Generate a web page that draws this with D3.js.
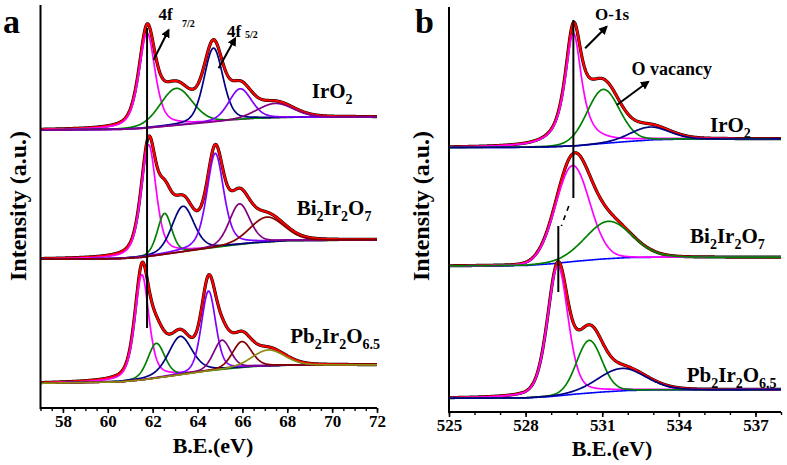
<!DOCTYPE html>
<html><head><meta charset="utf-8">
<script src="https://cdn.jsdelivr.net/npm/d3@7"></script>
<style>
body{margin:0;background:#fff}
svg{display:block}
text{font-family:"Liberation Serif","Times New Roman",serif;font-weight:bold;fill:#000}
</style>
</head><body>
<svg id="chart" width="787" height="465"></svg>
<script>
// ---------------- DATA ----------------
// Panel a : Ir 4f
const irDomain = [57, 72];
const irTickLabels = [58, 60, 62, 64, 66, 68, 70, 72];
const irMinorTicks = [57,57.5,58,58.5,59,59.5,60,60.5,61,61.5,62,62.5,63,63.5,64,64.5,65,65.5,66,66.5,67,67.5,68,68.5,69,69.5,70,70.5,71,71.5,72];
// Panel b : O 1s
const oDomain = [525, 538];
const oTickLabels = [525, 528, 531, 534, 537];
const oMinorTicks = [525,526,527,528,529,530,531,532,533,534,535,536,537,538];

// component colours
const cMagenta = "#ff00ff", cGreen = "#008000", cNavy = "#000080", cViolet = "#8000ff",
      cPurple = "#800080", cMaroon = "#800000", cOlive = "#8c8c14";

// IrO2 Ir 4f
const irO2_4f_centers = [61.75, 63.05, 64.71, 65.90, 67.46];
const irO2_4f_heights = [95, 37, 74, 31, 14.5];
const irO2_4f_widths  = [0.85, 1.7, 1.0, 1.2, 1.9];
const irO2_4f_mix     = [0.55, 0.2, 0.3, 0.3, 0.2];
const irO2_4f_colors  = [cMagenta, cGreen, cNavy, cViolet, cPurple];
const irO2_4f_baseline = [[57,278],[60.5,278.5],[61.5,279.5],[62.5,281.5],[63.5,283.5],[64.5,285.5],[65.5,287.5],[66.5,289.3],[68,290.5],[72,291]];

// Bi2Ir2O7 Ir 4f
const bi_4f_centers = [61.82, 62.53, 63.35, 64.79, 65.87, 67.09];
const bi_4f_heights = [111.7, 41, 45.7, 94.3, 40.7, 25];
const bi_4f_widths  = [0.79, 0.75, 1.16, 0.89, 1.08, 1.8];
const bi_4f_mix     = [0.5, 0.3, 0.3, 0.45, 0.3, 0.2];
const bi_4f_colors  = [cMagenta, cGreen, cNavy, cViolet, cPurple, cMaroon];
const bi_4f_baseline = [[57,148.7],[60.5,149.2],[61.5,150.5],[62.5,153.5],[63.5,156.5],[64.5,159.5],[65.5,162.5],[66.5,165],[68,167.3],[72,168]];

// Pb2Ir2O6.5 Ir 4f
const pb_4f_centers = [61.52, 62.16, 63.23, 64.49, 65.09, 65.98, 67.16];
const pb_4f_heights = [105.3, 34.7, 38.4, 80, 29.3, 26, 16];
const pb_4f_widths  = [0.74, 0.89, 1.26, 0.75, 0.9, 1.0, 1.7];
const pb_4f_mix     = [0.5, 0.3, 0.4, 0.3, 0.3, 0.3, 0.2];
const pb_4f_colors  = [cMagenta, cGreen, cNavy, cViolet, cPurple, cMaroon, cOlive];
const pb_4f_baseline = [[57,24.7],[60.5,26],[61.5,28],[62.5,31],[63.5,34],[64.5,37],[65.5,39.5],[66.5,41.5],[68,42.7],[72,43]];

// IrO2 O 1s
const irO2_o1s_centers = [529.87, 531.04, 532.85];
const irO2_o1s_heights = [112.7, 54, 13];
const irO2_o1s_widths  = [0.78, 1.5, 1.8];
const irO2_o1s_mix     = [0.85, 0.1, 0.1];
const irO2_o1s_colors  = [cMagenta, cGreen, cNavy];
const irO2_o1s_baseline = [[525,264.5],[528,264.7],[529,265.2],[530,266.2],[531,268.5],[532,270.5],[533,272.2],[534,272.8],[538,273]];

// Bi2Ir2O7 O 1s
const bi_o1s_centers = [529.84, 531.24];
const bi_o1s_heights = [96, 37.3];
const bi_o1s_widths  = [1.57, 2.15];
const bi_o1s_mix     = [0.05, 0.1];
const bi_o1s_colors  = [cMagenta, cGreen];
const bi_o1s_baseline = [[525,146],[528,146.5],[529,148.2],[530,150.8],[531,153],[532,154.4],[533,154.7],[538,154.7]];

// Pb2Ir2O6.5 O 1s
const pb_o1s_centers = [529.26, 530.49, 531.76];
const pb_o1s_heights = [130, 52.6, 22.4];
const pb_o1s_widths  = [0.95, 1.17, 2.2];
const pb_o1s_mix     = [0.35, 0.1, 0.1];
const pb_o1s_colors  = [cMagenta, cGreen, cNavy];
const pb_o1s_baseline = [[525,13.7],[528,14],[529,15.5],[530,18],[531,20],[532,21.5],[533,22],[538,22.5]];

// ---------------- DRAWING ----------------
const FONT = '"Liberation Serif","Times New Roman",serif';
const svg = d3.select("#chart");
svg.append("rect").attr("width",787).attr("height",465).attr("fill","#fff");

const xa = d3.scaleLinear().domain(irDomain).range([40.5, 377]);
const ya = d3.scaleLinear().domain([0, 403]).range([408, 5]);
const xb = d3.scaleLinear().domain(oDomain).range([449, 781]);
const yb = d3.scaleLinear().domain([0, 405]).range([412, 7]);

function pv(x, c, h, w, eta) {
  const d = (x - c) / w;
  return h * (eta / (1 + 4 * d * d) + (1 - eta) * Math.exp(-4 * Math.LN2 * d * d));
}
function makeSpectrum(domain, centers, heights, widths, mix, colors, baseline, step) {
  const bl = d3.scaleLinear().domain(baseline.map(p => p[0])).range(baseline.map(p => p[1]));
  const xs = d3.range(domain[0], domain[1] + step / 2, step);
  const comps = centers.map((c, i) => ({
    color: colors[i],
    pts: xs.map(x => [x, bl(x) + pv(x, c, heights[i], widths[i], mix[i])])
  }));
  const env = xs.map(x => [x, bl(x) + centers.reduce((s, c, i) => s + pv(x, c, heights[i], widths[i], mix[i]), 0)]);
  const base = xs.map(x => [x, bl(x)]);
  return {comps, env, base};
}

function drawSpectrum(g, sx, sy, sp, showBase) {
  const line = d3.line().x(d => sx(d[0])).y(d => sy(d[1]));
  g.append("path").attr("d", line(sp.env)).attr("fill","none").attr("stroke","#000").attr("stroke-width",3.2);
  g.append("path").attr("d", line(sp.env)).attr("fill","none").attr("stroke","#ff0000").attr("stroke-width",2.2);
  if (showBase) g.append("path").attr("d", line(sp.base)).attr("fill","none").attr("stroke","#0000ff").attr("stroke-width",1.6);
  sp.comps.forEach(c => {
    g.append("path").attr("d", line(c.pts)).attr("fill","none").attr("stroke",c.color).attr("stroke-width",1.7);
  });
}

const ga = svg.append("g");
const gb = svg.append("g");

[
  [irO2_4f_centers, irO2_4f_heights, irO2_4f_widths, irO2_4f_mix, irO2_4f_colors, irO2_4f_baseline],
  [bi_4f_centers, bi_4f_heights, bi_4f_widths, bi_4f_mix, bi_4f_colors, bi_4f_baseline],
  [pb_4f_centers, pb_4f_heights, pb_4f_widths, pb_4f_mix, pb_4f_colors, pb_4f_baseline]
].forEach(a => drawSpectrum(ga, xa, ya, makeSpectrum(irDomain, ...a, 0.02), false));

[
  [irO2_o1s_centers, irO2_o1s_heights, irO2_o1s_widths, irO2_o1s_mix, irO2_o1s_colors, irO2_o1s_baseline],
  [bi_o1s_centers, bi_o1s_heights, bi_o1s_widths, bi_o1s_mix, bi_o1s_colors, bi_o1s_baseline],
  [pb_o1s_centers, pb_o1s_heights, pb_o1s_widths, pb_o1s_mix, pb_o1s_colors, pb_o1s_baseline]
].forEach(a => drawSpectrum(gb, xb, yb, makeSpectrum(oDomain, ...a, 0.02), true));

// axes
function drawAxes(g, sx, sy, ticks, minor, yAxisTop) {
  const y0 = sy.range()[0];
  const minorAx = g.append("g").attr("transform", `translate(0,${y0})`)
    .call(d3.axisBottom(sx).tickValues(minor).tickSize(3).tickFormat(""));
  minorAx.select(".domain").remove();
  minorAx.selectAll("line").attr("stroke-width", 1.4);
  const major = g.append("g").attr("transform", `translate(0,${y0})`)
    .call(d3.axisBottom(sx).tickValues(ticks).tickSize(5).tickPadding(2).tickFormat(d3.format("d")));
  major.select(".domain").attr("stroke-width", 2).attr("d", `M${sx.range()[0]},0H${sx.range()[1]}`);
  major.selectAll("line").attr("stroke-width", 1.6);
  major.selectAll("text").attr("font-size", 17).attr("font-family", FONT).attr("font-weight","bold");
  g.append("line").attr("x1", sx.range()[0]).attr("x2", sx.range()[0]).attr("y1", yAxisTop).attr("y2", y0 + 1)
    .attr("stroke", "#000").attr("stroke-width", 2);
}
drawAxes(ga, xa, ya, irTickLabels, irMinorTicks, 5);
drawAxes(gb, xb, yb, oTickLabels, oMinorTicks, 7);

// axis titles
function yTitle(x, y) {
  svg.append("text").attr("transform", `translate(${x},${y}) rotate(-90)`).attr("text-anchor","middle")
    .attr("font-size", 24).text("Intensity (a.u.)");
}
yTitle(26, 206);
yTitle(429, 206);
svg.append("text").attr("x", 213).attr("y", 453).attr("text-anchor","middle").attr("font-size", 22).text("B.E.(eV)");
svg.append("text").attr("x", 612).attr("y", 456).attr("text-anchor","middle").attr("font-size", 22).text("B.E.(eV)");

// panel letters
svg.append("text").attr("x", 3).attr("y", 33).attr("font-size", 34).text("a");
svg.append("text").attr("x", 415).attr("y", 33).attr("font-size", 34).text("b");

// formula labels
function formula(x, y, parts) {
  const t = svg.append("text").attr("x", x).attr("y", y).attr("font-size", 21);
  let sub = false;
  parts.forEach(p => {
    const isSub = !!p[1];
    const ts = t.append("tspan").text(p[0]);
    if (isSub) ts.attr("font-size", 14);
    if (isSub && !sub) ts.attr("dy", 6);
    if (!isSub && sub) ts.attr("dy", -6);
    sub = isSub;
  });
}
const lblIrO2 = [["IrO"],["2",true]];
const lblBi = [["Bi"],["2",true],["Ir"],["2",true],["O"],["7",true]];
const lblPb = [["Pb"],["2",true],["Ir"],["2",true],["O"],["6.5",true]];
formula(xa(69.09), ya(309.7), lblIrO2);
formula(xa(68.42), ya(193), lblBi);
formula(xa(68.13), ya(64.7), lblPb);
formula(xb(535.22), yb(280.5), lblIrO2);
formula(xb(534.44), yb(168.7), lblBi);
formula(xb(534.31), yb(30.3), lblPb);

// markers: vertical guide lines
ga.append("line").attr("x1", xa(61.75)).attr("x2", xa(61.75)).attr("y1", ya(380)).attr("y2", ya(80))
  .attr("stroke","#000").attr("stroke-width",2);
gb.append("line").attr("x1", xb(529.87)).attr("x2", xb(529.87)).attr("y1", yb(392)).attr("y2", yb(214))
  .attr("stroke","#000").attr("stroke-width",2);
gb.append("line").attr("x1", xb(529.69)).attr("x2", xb(529.40)).attr("y1", yb(206)).attr("y2", yb(186))
  .attr("stroke","#000").attr("stroke-width",1.6).attr("stroke-dasharray","5,5");
gb.append("line").attr("x1", xb(529.28)).attr("x2", xb(529.28)).attr("y1", yb(186)).attr("y2", yb(120))
  .attr("stroke","#000").attr("stroke-width",2);

// arrows
const defs = svg.append("defs");
defs.append("marker").attr("id","ah").attr("viewBox","0 0 10 10").attr("refX",8).attr("refY",5)
  .attr("markerWidth",4.5).attr("markerHeight",4.5).attr("orient","auto")
  .append("path").attr("d","M0,0L10,5L0,10z").attr("fill","#000");
function arrow(sx, sy, x1, y1, x2, y2) {
  svg.append("line").attr("x1", sx(x1)).attr("y1", sy(y1)).attr("x2", sx(x2)).attr("y2", sy(y2))
    .attr("stroke","#000").attr("stroke-width",2).attr("marker-end","url(#ah)");
}
arrow(xa, ya, 62.04, 348, 62.71, 378);
arrow(xa, ya, 64.94, 339.7, 65.68, 369.7);
arrow(xb, yb, 530.33, 363.7, 531.17, 385.3);
arrow(xb, yb, 531.57, 307, 532.8, 330.3);

// annotation texts
svg.append("text").attr("x", xa(62.26)).attr("y", ya(388)).attr("font-size", 17).text("4f");
svg.append("text").attr("x", xa(63.31)).attr("y", ya(381.3)).attr("font-size", 10).text("7/2");
svg.append("text").attr("x", xa(65.31)).attr("y", ya(371.3)).attr("font-size", 17).text("4f");
svg.append("text").attr("x", xa(66.12)).attr("y", ya(370)).attr("font-size", 10).text("5/2");
svg.append("text").attr("x", xb(530.72)).attr("y", yb(392)).attr("font-size", 17).text("O-1s");
svg.append("text").attr("x", xb(532.15)).attr("y", yb(337)).attr("font-size", 18).text("O vacancy");
</script>
</body></html>
